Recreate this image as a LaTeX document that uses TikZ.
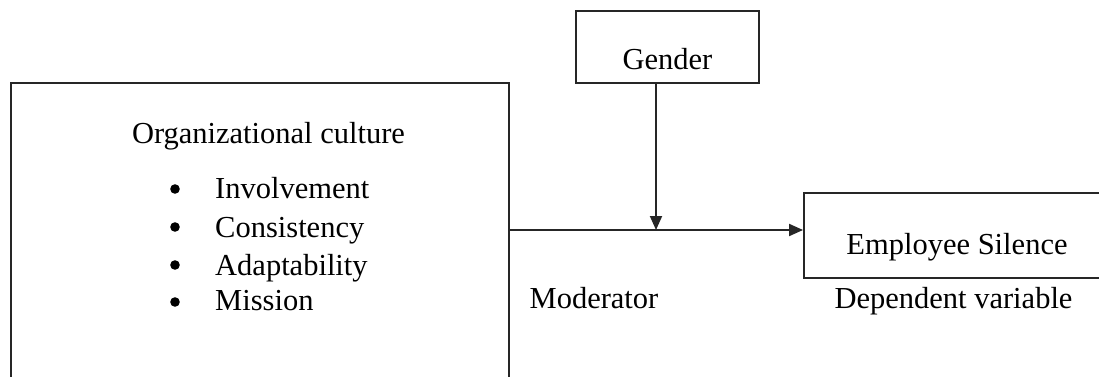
\documentclass[tikz,border=0pt]{standalone}
\usepackage{fontspec}
\setmainfont{Liberation Serif}
\usetikzlibrary{arrows.meta}
\begin{document}
\begin{tikzpicture}[x=1pt,y=-1pt,
  box/.style={draw=black!85,line width=1.9pt,inner sep=0pt},
  lbl/.style={font=\fontsize{30.5}{36}\selectfont,inner sep=0pt,anchor=base},
  conn/.style={draw=black!85,line width=1.9pt,-{Triangle[length=14pt,width=12pt]}}]
\useasboundingbox (0,0) rectangle (1099,377);
\clip (0,0) rectangle (1099,377);
\fill[white] (0,0) rectangle (1099,377);
\node[box,minimum width=498pt,minimum height=317pt] (culture) at (260,241.5) {};
\node[box,minimum width=183pt,minimum height=72pt] (gender) at (667.5,47) {};
\node[lbl] (gendert) at (667.5,70) {Gender};
\node[box,minimum width=306pt,minimum height=85pt] (employee) at (957,235.5) {};
\node[lbl] (employeet) at (957,254) {Employee Silence};
\node[lbl] (title) at (268.5,143) {Organizational culture};
\foreach \y/\b/\t/\n in {198/189/Involvement/a,237/227/Consistency/b,275/265/Adaptability/c,310/302/Mission/d}{
  \fill (175,\b) circle (4.8pt);
  \node[lbl,anchor=base west] (item\n) at (215,\y) {\t};
}
\node[lbl] (moderator) at (594,308) {Moderator};
\node[lbl] (dependent) at (953.5,308) {Dependent variable};
\coordinate (m) at (656,230);
\draw[conn] (culture.east |- m) -- (employee.west |- m);
\draw[conn] (gender.south -| m) -- (m);
\end{tikzpicture}
\end{document}
